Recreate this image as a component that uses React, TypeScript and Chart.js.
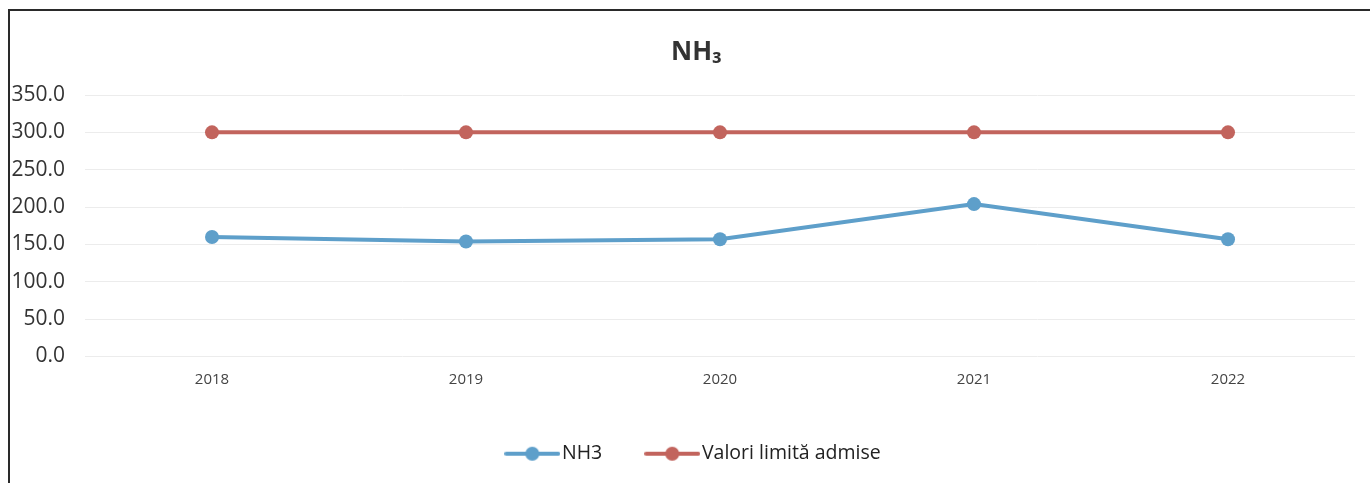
import React, { useEffect, useRef } from "react";
import { Chart, registerables } from "chart.js";

Chart.register(...registerables);

const years = ["2018", "2019", "2020", "2021", "2022"];
const nh3Values = [160.0, 154.0, 157.0, 204.0, 157.0];
const limitValues = [300.0, 300.0, 300.0, 300.0, 300.0];
const titleText = "NH₃";
const seriesNames = ["NH3", "Valori limită admise"];

const BLUE = "#5e9fca";
const RED = "#c2645d";
const FONT = "'Open Sans', 'DejaVu Sans', sans-serif";

function legendIcon(color: string): HTMLCanvasElement {
  const c = document.createElement("canvas");
  c.width = 56;
  c.height = 16;
  const ctx = c.getContext("2d")!;
  ctx.strokeStyle = color;
  ctx.lineWidth = 4;
  ctx.lineCap = "round";
  ctx.beginPath();
  ctx.moveTo(2, 8);
  ctx.lineTo(54, 8);
  ctx.stroke();
  ctx.fillStyle = color;
  ctx.beginPath();
  ctx.arc(28, 8, 7, 0, Math.PI * 2);
  ctx.fill();
  return c;
}

const shiftBoxes = {
  id: "shiftBoxes",
  afterLayout(chart: any) {
    const boxes = [chart.titleBlock, chart.legend];
    for (const b of boxes) {
      if (b) {
        b.left += 19;
        b.right += 19;
      }
    }
  },
};

export default function App() {
  const ref = useRef<HTMLCanvasElement | null>(null);

  useEffect(() => {
    if (!ref.current) return;
    const icons = [legendIcon(BLUE), legendIcon(RED)];
    const chart = new Chart(ref.current, {
      type: "line",
      data: {
        labels: years,
        datasets: [
          {
            label: seriesNames[0],
            data: nh3Values,
            borderColor: BLUE,
            backgroundColor: BLUE,
            borderWidth: 4,
            pointRadius: 7,
            pointBackgroundColor: BLUE,
            pointBorderWidth: 0,
            tension: 0,
          },
          {
            label: seriesNames[1],
            data: limitValues,
            borderColor: RED,
            backgroundColor: RED,
            borderWidth: 4,
            pointRadius: 7,
            pointBackgroundColor: RED,
            pointBorderWidth: 0,
            tension: 0,
          },
        ],
      },
      plugins: [shiftBoxes],
      options: {
        animation: false,
        responsive: false,
        maintainAspectRatio: false,
        layout: { padding: { left: 0, right: 15, top: 0, bottom: 9.5 } },
        plugins: {
          title: {
            display: true,
            text: titleText,
            color: "#333333",
            font: { family: FONT, size: 26, weight: "bold" },
            padding: { top: 37.4, bottom: 26.4 },
          },
          legend: {
            position: "bottom",
            labels: {
              usePointStyle: true,
              pointStyleWidth: 40,
              color: "#222222",
              font: { family: FONT, size: 19.5 },
              padding: 50,
              generateLabels: (ch: any) =>
                ch.data.datasets.map((ds: any, i: number) => ({
                  text: ds.label,
                  pointStyle: icons[i],
                  fillStyle: ds.borderColor,
                  strokeStyle: ds.borderColor,
                  lineWidth: 0,
                  hidden: false,
                  datasetIndex: i,
                  fontColor: "#222222",
                })),
            },
          },
          tooltip: { enabled: false },
        },
        scales: {
          x: {
            offset: true,
            grid: { display: false, drawTicks: false },
            border: { display: false },
            ticks: {
              color: "#444444",
              font: { family: FONT, size: 15 },
              padding: 14,
            },
            afterFit: (s: any) => {
              s.height = 37.5;
            },
          },
          y: {
            min: 0,
            max: 350,
            grid: { color: "#ececec", lineWidth: 1, drawTicks: false },
            border: { display: false },
            ticks: {
              stepSize: 50,
              color: "#333333",
              font: { family: FONT, size: 21 },
              padding: 20,
              callback: (v: any) => Number(v).toFixed(1),
            },
            afterFit: (s: any) => {
              s.width = 85;
            },
          },
        },
      },
    });
    return () => chart.destroy();
  }, []);

  return (
    <div
      style={{
        position: "fixed",
        left: 0,
        top: 0,
        width: 1370,
        height: 483,
        overflow: "hidden",
        background: "#ffffff",
      }}
    >
      <canvas ref={ref} width={1370} height={483} style={{ position: "absolute", left: 0, top: 0 }} />
      <div
        style={{
          position: "absolute",
          left: 8,
          top: 9,
          width: 1400,
          height: 520,
          border: "2px solid #2a2a2a",
          pointerEvents: "none",
        }}
      />
    </div>
  );
}
